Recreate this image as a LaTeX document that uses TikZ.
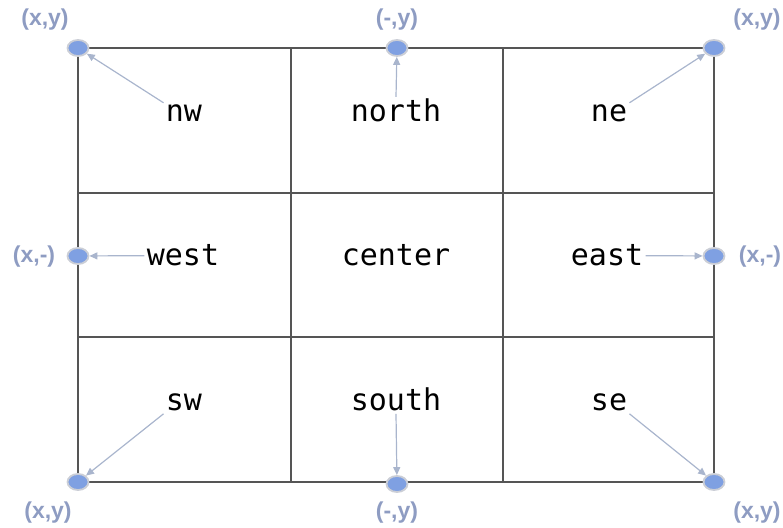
\documentclass[tikz,border=0pt]{standalone}
\usepackage{fontspec}
\setmainfont{Liberation Sans}
\newfontfamily\anchorfont{DejaVu Sans Mono}
\usetikzlibrary{arrows.meta,shapes.geometric}
\definecolor{dotblue}{HTML}{7FA0E2}
\definecolor{dotrim}{HTML}{CBCED6}
\definecolor{tagblue}{HTML}{8E9CC2}
\definecolor{arrowgray}{HTML}{A9B5CD}
\definecolor{gridgray}{HTML}{555555}
\tikzset{
  anchordot/.style={ellipse, fill=dotblue, draw=dotrim, line width=0.9pt,
    minimum width=10.5pt, minimum height=8pt, inner sep=0pt},
  anchortext/.style={font=\anchorfont\fontsize{15}{18}\selectfont, inner sep=1pt, anchor=base},
  coordtag/.style={font=\bfseries\fontsize{11.5}{13}\selectfont, text=tagblue, inner sep=0pt},
  conn/.style={draw=arrowgray, line width=0.6pt, -{Triangle[length=4pt,width=3.5pt]}},
  gridline/.style={draw=gridgray, line width=0.8pt}
}
\begin{document}
\begin{tikzpicture}[x=0.5pt, y=-0.5pt]
    \useasboundingbox (0,0) rectangle (783,528);
    % grid
    \draw[gridline] (78,48) rectangle (714,482);
    \draw[gridline] (291,48)--(291,482);
    \draw[gridline] (503,48)--(503,482);
    \draw[gridline] (78,193)--(714,193);
    \draw[gridline] (78,337)--(714,337);
    % anchor points
    \node[anchordot](dnw)at(78,48){};
    \node[anchordot](dn)at(397,48){};
    \node[anchordot](dne)at(714,48){};
    \node[anchordot](dw)at(78,256){};
    \node[anchordot](de)at(714,256){};
    \node[anchordot](dsw)at(78,482){};
    \node[anchordot](ds)at(397,484){};
    \node[anchordot](dse)at(714,482){};
    % coordinate tags
    \node[coordtag](cnw)at(45,20){(x,y)};
    \node[coordtag](cn)at(397,20){(-,y)};
    \node[coordtag](cne)at(757,20){(x,y)};
    \node[coordtag](cw)at(34,257){(x,-)};
    \node[coordtag](ce)at(760,257){(x,-)};
    \node[coordtag](csw)at(48,513){(x,y)};
    \node[coordtag](cs)at(397,513){(-,y)};
    \node[coordtag](cse)at(757,513){(x,y)};
    % anchor names
    \node[anchortext](tnw)at(184,122){nw};
    \node[anchortext](tn)at(396,122){north};
    \node[anchortext](tne)at(609,122){ne};
    \node[anchortext](tw)at(183,266){west};
    \node[anchortext](tc)at(396,266){center};
    \node[anchortext](te)at(607,266){east};
    \node[anchortext](tsw)at(184,411){sw};
    \node[anchortext](ts)at(396,411){south};
    \node[anchortext](tse)at(609,411){se};
    % pointers
    \draw[conn](tnw.north west)--(dnw);
    \draw[conn](tn.north)--(dn);
    \draw[conn](tne.north east)--(dne);
    \draw[conn](tw.west)--(dw);
    \draw[conn](te.east)--(de);
    \draw[conn](tsw.south west)--(dsw);
    \draw[conn](ts.south)--(ds);
    \draw[conn](tse.south east)--(dse);
\end{tikzpicture}
\end{document}
